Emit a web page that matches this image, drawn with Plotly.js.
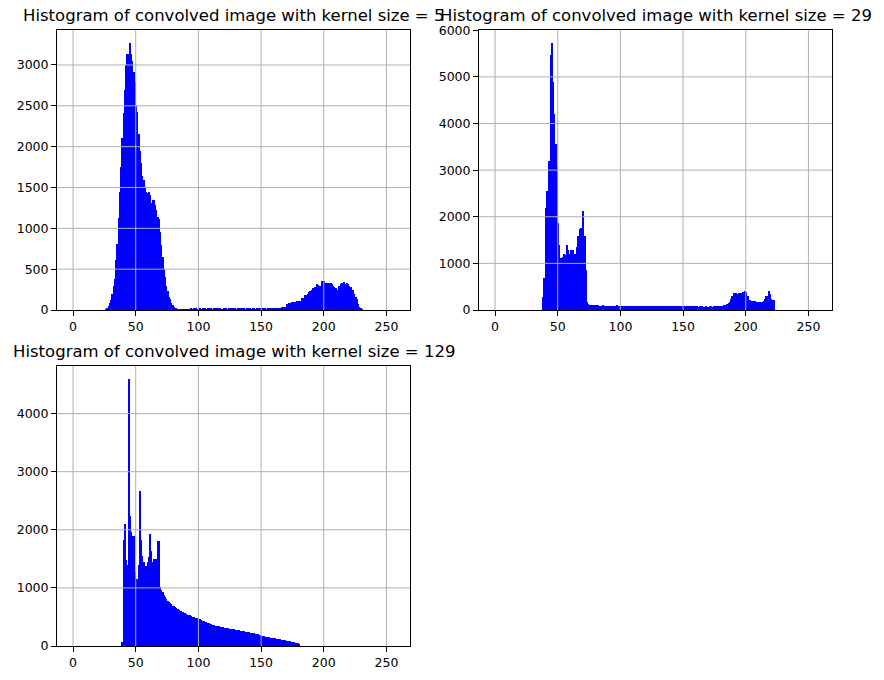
<!DOCTYPE html>
<html>
<head>
<meta charset="utf-8">
<script src="https://cdn.plot.ly/plotly-3.0.1.min.js"></script>
<style>
  html, body { margin: 0; padding: 0; background: #fff; }
  #chart { width: 884px; height: 680px; }
</style>
</head>
<body>
<div id="chart"></div>
<script>
// ===== Data =====
const BIN_COUNT = 256;
const xTicks = [0, 50, 100, 150, 200, 250];

const titles = [
  'Histogram of convolved image with kernel size = 5',
  'Histogram of convolved image with kernel size = 29',
  'Histogram of convolved image with kernel size = 129',
];

// kernel size 5: counts from bin 26 upward
const k5First = 26;
const k5Counts = [
  10, 25, 50, 90, 120, 190, 300, 380, 610, 810,          // 26-35
  1130, 1450, 1750, 2110, 2410, 2690, 3000, 3140, 3140, 3265, // 36-45
  3140, 3050, 2920, 2790, 2500, 2420, 2150, 1950, 1800, 1640, // 46-55
  1590, 1490, 1440, 1430, 1450, 1410, 1310, 1350, 1350, 1290, // 56-65
  1230, 1140, 1120, 950, 800, 650, 500, 410, 300, 230,   // 66-75
  160, 130, 80, 60, 40, 30, 25, 12, 8, 5,                // 76-85
  4, 3, 3, 4, 3, 2, 3, 12, 13, 12,                       // 86-95
  14, 12, 13, 12, 14, 13, 12, 14, 28, 13,                // 96-105
  12, 14, 12, 13, 14, 12, 13, 12, 14, 13,                // 106-115
  12, 13, 5, 12, 13, 12, 14, 12, 13, 12,                 // 116-125
  13, 14, 12, 13, 12, 13, 12, 14, 13, 12,                // 126-135
  13, 12, 13, 14, 12, 13, 12, 13, 14, 12,                // 136-145
  13, 12, 13, 14, 13, 12, 13, 14, 12, 13,                // 146-155
  14, 13, 15, 14, 16, 15, 18, 20, 25, 28,                // 156-165
  33, 33, 35, 38, 75, 78, 80, 80, 95, 95,                // 166-175
  98, 100, 110, 112, 108, 115, 145, 145, 150, 185,       // 176-185
  185, 190, 225, 230, 240, 265, 270, 280, 320, 310,      // 186-195
  295, 300, 350, 345, 350, 330, 330, 325, 330, 330,      // 196-205
  320, 300, 280, 265, 225, 240, 300, 320, 335, 330,      // 206-215
  340, 320, 325, 315, 290, 285, 245, 240, 200, 165,      // 216-225
  140, 75, 40, 20, 10,                                   // 226-230
];

// kernel size 29: counts from bin 38 upward
const k29First = 38;
const k29Counts = [
  285, 690, 2190, 2550, 2210, 3190, 5460, 5720, 4890, 4210, // 38-47
  3570, 3070, 1870, 1390, 1110, 1070, 1140, 1200, 1180, 1390, // 48-57
  1290, 1200, 1290, 1250, 1290, 1200, 1070, 1360, 1590, 1730, // 58-67
  1750, 1730, 2120, 1590, 860, 180, 130, 110, 105, 100,  // 68-77
  102, 98, 100, 96, 98, 95, 96, 93, 100, 94,             // 78-87
  92, 95, 92, 94, 90, 93, 91, 92, 95, 100,               // 88-97
  92, 90, 88, 92, 95, 90, 88, 92, 89, 91,                // 98-107
  88, 92, 90, 87, 90, 88, 91, 87, 89, 88,                // 108-117
  86, 88, 87, 85, 88, 86, 84, 86, 85, 83,                // 118-127
  85, 84, 82, 84, 83, 81, 83, 82, 80, 82,                // 128-137
  81, 80, 81, 79, 80, 78, 80, 79, 78, 80,                // 138-147
  78, 77, 79, 78, 76, 78, 77, 76, 88, 78,                // 148-157
  76, 77, 75, 76, 75, 77, 90, 76, 75, 74,                // 158-167
  76, 75, 74, 80, 76, 75, 76, 77, 78, 80,                // 168-177
  78, 82, 85, 95, 100, 100, 105, 130, 160, 165,          // 178-187
  235, 305, 365, 360, 370, 345, 365, 360, 355, 380,      // 188-197
  375, 400, 380, 290, 220, 205, 200, 200, 195, 185,      // 198-207
  180, 180, 175, 170, 170, 165, 200, 235, 290, 300,      // 208-217
  415, 345, 235, 225, 205,                               // 218-222
];

// kernel size 129: counts from bin 39 upward
const k129First = 39;
const k129Counts = [
  63, 1830, 2100, 1480, 1390, 4590, 2235, 1965, 1890, 1890, // 39-48
  1280, 1160, 1160, 1390, 2660, 1830, 1550, 1450, 1350, 1375, // 49-58
  1450, 1535, 1925, 1630, 1450, 1495, 1495, 1490, 1800, 1800, // 59-68
  1010, 960, 925, 885, 845, 810, 780, 757, 740, 717,     // 69-78
  694, 682, 665, 647, 636, 620, 605, 598, 582, 570,      // 79-88
  562, 552, 540, 525, 528, 512, 502, 496, 490, 484,      // 89-98
  474, 465, 458, 445, 430, 423, 415, 405, 400, 392,      // 99-108
  385, 375, 368, 360, 352, 348, 342, 338, 332, 328,      // 109-118
  324, 318, 312, 308, 305, 300, 296, 292, 289, 285,      // 119-128
  281, 277, 273, 268, 264, 260, 256, 252, 248, 244,      // 129-138
  240, 236, 232, 228, 224, 220, 215, 210, 205, 198,      // 139-148
  190, 180, 175, 170, 162, 158, 154, 150, 146, 142,      // 149-158
  139, 136, 132, 128, 124, 120, 114, 108, 104, 100,      // 159-168
  96, 92, 88, 84, 78, 72, 68, 64, 58, 52,                // 169-178
  46, 40,                                                // 179-180
];

const yTicks5 = [0, 500, 1000, 1500, 2000, 2500, 3000];
const yTicks29 = [0, 1000, 2000, 3000, 4000, 5000, 6000];
const yTicks129 = [0, 1000, 2000, 3000, 4000];

// ===== Build =====
const W = 884, H = 680;
const BAR_COLOR = '#0000ff';
const GRID_COLOR = '#b0b0b0';
const FONT = 'DejaVu Sans';

// spread a run of counts over the full 0..255 bin range
function toBins(first, counts) {
  const out = new Array(BIN_COUNT).fill(0);
  counts.forEach((c, i) => { out[first + i] = c; });
  return out;
}

const binCenters = [];
for (let i = 0; i < BIN_COUNT; i++) binCenters.push(i + 0.5);

const xRange = [-0.05 * BIN_COUNT, 1.05 * BIN_COUNT];

const panels = [
  { counts: toBins(k5First, k5Counts), yTicks: yTicks5, xa: 'x', ya: 'y',
    xdom: [57, 410], ydom: [30, 310], title: titles[0] },
  { counts: toBins(k29First, k29Counts), yTicks: yTicks29, xa: 'x2', ya: 'y2',
    xdom: [479, 832], ydom: [30, 310], title: titles[1] },
  { counts: toBins(k129First, k129Counts), yTicks: yTicks129, xa: 'x3', ya: 'y3',
    xdom: [57, 410], ydom: [366, 646], title: titles[2] },
];

const traces = [];
const shapes = [];
const annotations = [];
const layout = {
  width: W, height: H,
  margin: { l: 0, r: 0, t: 0, b: 0 },
  paper_bgcolor: '#fff', plot_bgcolor: '#fff',
  font: { family: FONT, color: '#000', size: 12.5 },
  showlegend: false,
  bargap: 0,
};

function axisBase() {
  return {
    showgrid: false, zeroline: false,
    showline: true, mirror: true, linecolor: '#000', linewidth: 1,
    ticks: 'outside', ticklen: 5, tickwidth: 1, tickcolor: '#000',
    tickfont: { family: FONT, size: 12.5, color: '#000' },
    fixedrange: true,
  };
}

panels.forEach((p, k) => {
  const yMax = 1.05 * Math.max(...p.counts);
  const suffix = k === 0 ? '' : String(k + 1);

  traces.push({
    type: 'bar', x: binCenters, y: p.counts, width: 1,
    xaxis: p.xa, yaxis: p.ya,
    marker: { color: BAR_COLOR, line: { width: 0 } },
    hoverinfo: 'x+y',
  });

  layout['xaxis' + suffix] = {
    ...axisBase(),
    domain: [p.xdom[0] / W, p.xdom[1] / W],
    anchor: p.ya,
    range: xRange,
    tickvals: xTicks,
    ticktext: xTicks.map(String),
  };
  layout['yaxis' + suffix] = {
    ...axisBase(),
    domain: [1 - p.ydom[1] / H, 1 - p.ydom[0] / H],
    anchor: p.xa,
    range: [0, yMax],
    tickvals: p.yTicks,
    ticktext: p.yTicks.map(String),
  };

  // matplotlib draws the grid over the bars, so grid goes in as shapes above
  xTicks.forEach(t => shapes.push({
    type: 'line', layer: 'above', xref: p.xa, yref: p.ya + ' domain',
    x0: t, x1: t, y0: 0, y1: 1, line: { color: GRID_COLOR, width: 1 },
  }));
  p.yTicks.filter(t => t > 0 && t < yMax * 0.995).forEach(t => shapes.push({
    type: 'line', layer: 'above', xref: p.xa + ' domain', yref: p.ya,
    x0: 0, x1: 1, y0: t, y1: t, line: { color: GRID_COLOR, width: 1 },
  }));

  annotations.push({
    text: p.title, showarrow: false,
    xref: p.xa + ' domain', yref: p.ya + ' domain',
    x: 0.5, y: 1, xanchor: 'center', yanchor: 'bottom', yshift: 3,
    font: { family: FONT, size: 16.5, color: '#000' },
  });
});

layout.shapes = shapes;
layout.annotations = annotations;

Plotly.newPlot('chart', traces, layout, { displayModeBar: false, staticPlot: false });
</script>
</body>
</html>
